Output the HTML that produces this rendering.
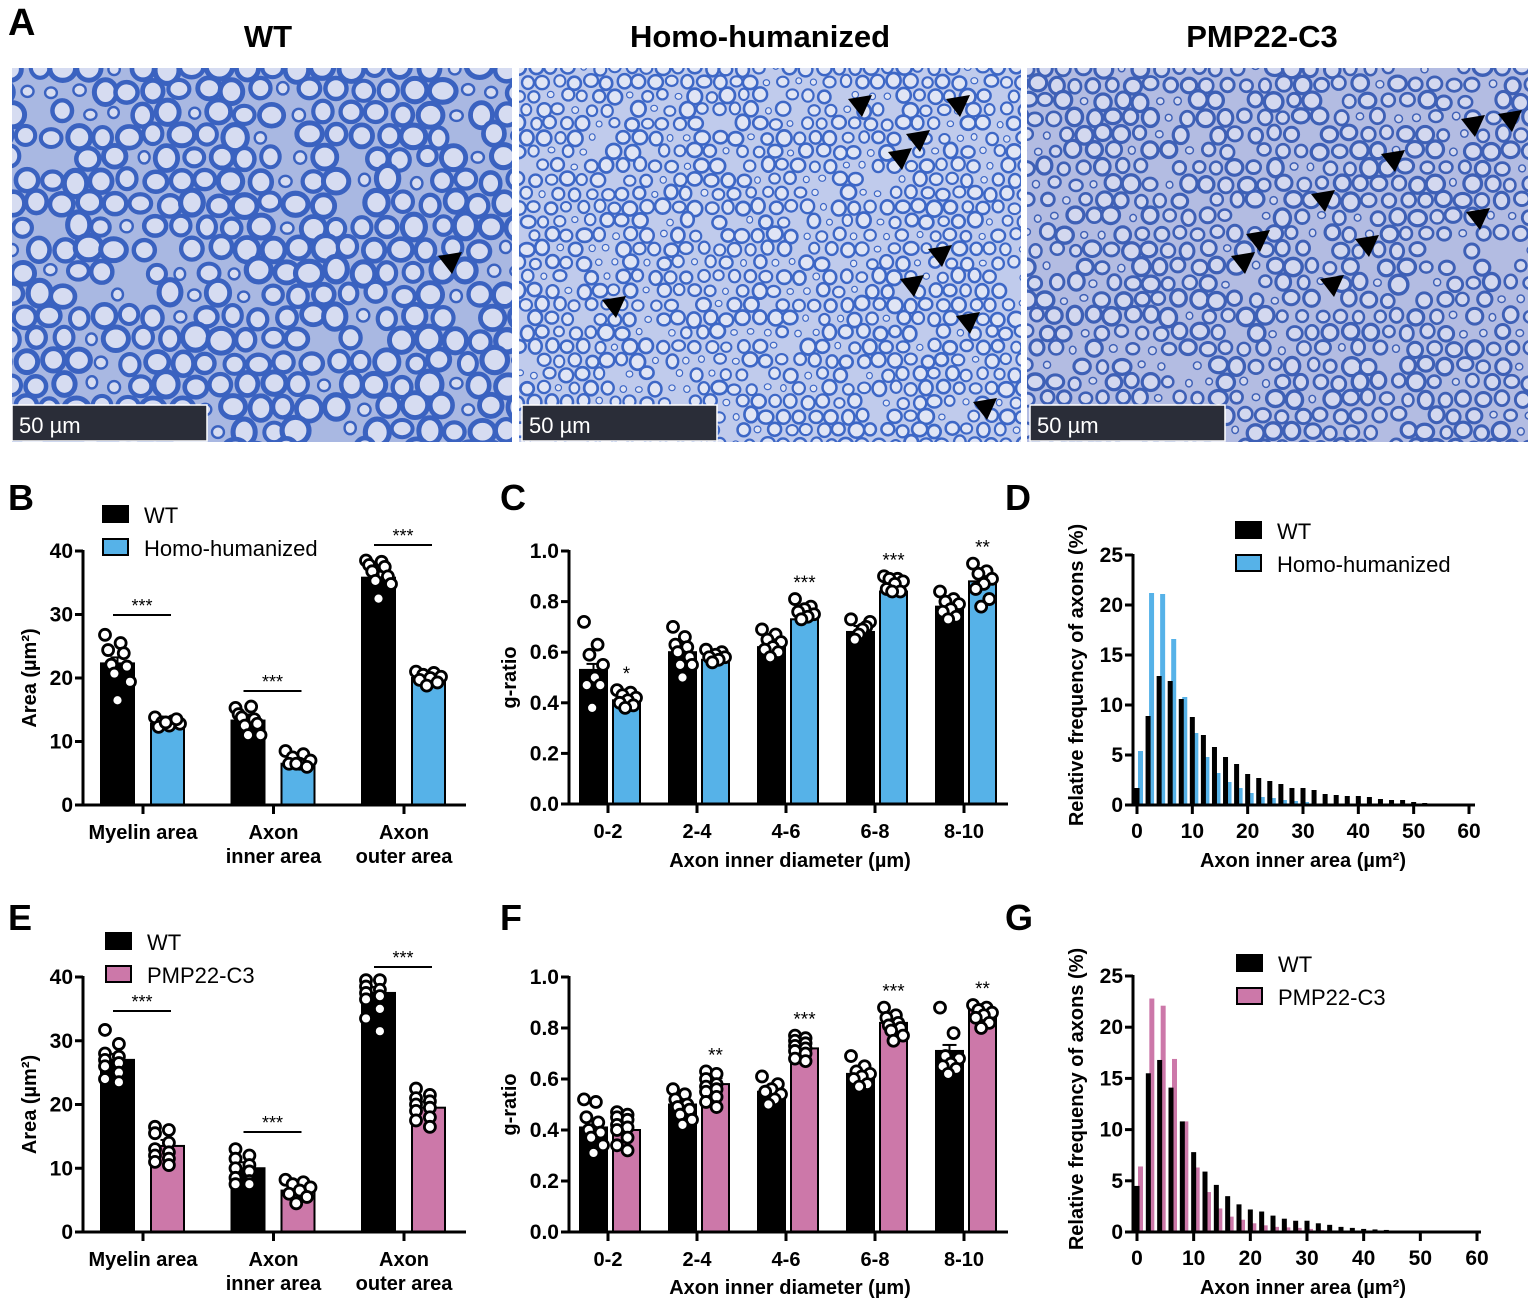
<!DOCTYPE html>
<html><head><meta charset="utf-8"><style>
html,body{margin:0;padding:0;background:#fff;}
svg{display:block;font-family:"Liberation Sans",Arial,sans-serif;}
</style></head>
<body>
<svg id="fig" width="1535" height="1307" viewBox="0 0 1535 1307" xmlns="http://www.w3.org/2000/svg">
<defs>
<clipPath id="clipA1"><rect x="12" y="68" width="500" height="374"/></clipPath>
<clipPath id="clipA2"><rect x="519" y="68" width="502" height="374"/></clipPath>
<clipPath id="clipA3"><rect x="1027" y="68" width="501" height="374"/></clipPath>
</defs>
<g id="layer"></g>
</svg>
<script>
// ---------- Panel B data ----------
const bCategories = ["Myelin area", "Axon|inner area", "Axon|outer area"];
const bWT = [22.3, 13.3, 35.8];
const bHH = [12.8, 6.5, 20.0];
const bWTdots = [[26.8,25.5,24.4,23.9,22.1,21.8,20.7,19.4,16.5],[15.3,15.5,14.3,13.5,13.8,12.8,12.5,11,11],[38.5,38.3,37.8,37.5,36.8,36,35.3,34.8,32.5]];
const bHHdots = [[13.8,13.2,13,12.8,12.5,12.3,13.5,13.0],[8.5,8,7.5,7,6.5,6.5,6,6.5],[21,20.8,20.5,20.2,20,19.7,19.3,18.8]];
const bTicks = [0,10,20,30,40];
// ---------- Panel C data ----------
const cCategories = ["0-2","2-4","4-6","6-8","8-10"];
const cWT = [0.53,0.60,0.62,0.68,0.78];
const cHH = [0.41,0.57,0.73,0.84,0.88];
const cWTdots = [[.72,.63,.59,.55,.5,.47,.47,.38],[.70,.66,.63,.62,.60,.58,.55,.55,.50],[.69,.67,.65,.64,.62,.61,.60,.58],[.73,.72,.70,.69,.67,.65],[.84,.81,.80,.79,.77,.76,.74,.73]];
const cHHdots = [[.45,.44,.43,.42,.41,.40,.39,.38],[.61,.60,.59,.58,.58,.57,.56],[.81,.78,.77,.76,.75,.74,.73],[.90,.89,.89,.88,.87,.85,.84,.84],[.95,.92,.91,.89,.87,.85,.81,.78]];
const cStars = ["*","","***","***","**"];
const gTicks = [0,0.2,0.4,0.6,0.8,1.0];
// ---------- Panel D data ----------
const dWT = [1.7,8.9,12.9,12.4,10.6,8.8,7.0,5.8,4.8,4.1,3.1,2.7,2.4,2.1,1.7,1.7,1.5,1.1,1.0,0.9,0.9,0.8,0.6,0.5,0.5,0.3,0.2,0.15,0.1,0.1,0.1];
const dHH = [5.4,21.2,21.1,16.6,10.8,7.2,4.8,3.2,2.3,1.7,1.2,0.8,0.7,0.5,0.4,0.3,0.15,0.1,0.1,0.1,0.05,0.05,0.05,0.05,0.05,0.05,0.05,0.05,0.05,0.05,0];
const histXTicks = [0,10,20,30,40,50,60];
const histYTicks = [0,5,10,15,20,25];
// ---------- Panel E data ----------
const eWT = [27.0, 10.0, 37.5];
const ePMP = [13.5, 6.5, 19.5];
const eWTdots = [[31.7,29.5,28,27.5,27,26.5,26,25,24,23.5],[13,12,11.5,10.5,10,9.5,8.5,8,7.5,7.5],[39.5,39.5,38.5,38,37.5,37,36.5,35,33.5,31.5]];
const ePMPdots = [[16.5,16,15.5,14,13,12.5,12,11.5,11,10.5],[8.2,7.8,7.5,7,6.5,6,5.5,4.5],[22.5,21.5,21,20.5,20,19.5,19,18,17.5,16.5]];
// ---------- Panel F data ----------
const fWT = [0.41,0.50,0.55,0.62,0.71];
const fPMP = [0.40,0.58,0.72,0.82,0.87];
const fWTdots = [[.52,.51,.45,.43,.40,.39,.37,.34,.31],[.56,.54,.52,.50,.49,.48,.46,.44,.42],[.61,.58,.56,.55,.54,.52,.50],[.69,.65,.63,.62,.61,.60,.58,.57],[.88,.78,.69,.68,.66,.65,.64,.62]];
const fPMPdots = [[.47,.46,.45,.44,.42,.41,.40,.37,.34,.32],[.63,.62,.60,.58,.57,.56,.55,.53,.51,.49],[.77,.76,.75,.74,.73,.72,.71,.70,.68,.67],[.88,.85,.84,.82,.81,.80,.79,.77,.75],[.89,.88,.87,.86,.85,.84,.82,.80]];
const fStars = ["","**","***","***","**"];
// ---------- Panel G data ----------
const gWT = [4.5,15.5,16.8,14.1,10.8,7.8,5.9,4.6,3.5,2.7,2.2,2.0,1.6,1.3,1.1,1.1,0.85,0.7,0.5,0.4,0.3,0.25,0.2,0,0,0,0,0,0,0,0];
const gPMP = [6.4,22.8,22.1,16.9,10.8,6.3,3.9,2.3,1.5,1.2,0.85,0.65,0.5,0.45,0.4,0.3,0.2,0.15,0.1,0.05,0,0,0,0,0,0,0,0,0,0,0];

const NS = "http://www.w3.org/2000/svg";
const root = document.getElementById("layer");
const BLUE = "#56b2e8", PINK = "#cc78a9";
function mk(tag, attrs, parent) {
  const e = document.createElementNS(NS, tag);
  for (const k in attrs) e.setAttribute(k, attrs[k]);
  (parent || root).appendChild(e);
  return e;
}
function txt(x, y, s, size, opts, parent) {
  opts = opts || {};
  const t = mk("text", {x: x, y: y, "font-size": size, "text-anchor": opts.anchor || "start", "font-weight": opts.bold ? "bold" : "normal", fill: "#000"}, parent);
  if (opts.rot) t.setAttribute("transform", "rotate(-90 " + x + " " + y + ")");
  t.textContent = s;
  return t;
}

// ---------- Panel A micrographs ----------
let seed = 12345;
function rnd() { seed = (seed * 1103515245 + 12345) % 2147483648; return seed / 2147483648; }
function micro(x0, y0, w, h, clip, bg, ring, inner, sp, rmin, rmax, swf, name) {
  const g = mk("g", {"clip-path": "url(#" + clip + ")"});
  
  
  mk("rect", {x: x0, y: y0, width: w, height: h, fill: bg}, g);
  const rows = Math.ceil(h / (sp * 0.87)) + 2;
  const cols = Math.ceil(w / sp) + 2;
  for (let i = -1; i < rows; i++) for (let j = -1; j < cols; j++) {
    if (rnd() < 0.05) continue;
    const cx = x0 + j * sp + (i % 2 ? sp / 2 : 0) + (rnd() - 0.5) * sp * 0.2;
    const cy = y0 + i * sp * 0.87 + (rnd() - 0.5) * sp * 0.2;
    let r = rmin + rnd() * (rmax - rmin);
    if (rnd() < 0.15) r = rmin * 0.6;
    mk("ellipse", {cx: cx, cy: cy, rx: r * (0.9 + rnd() * 0.2), ry: r * (0.9 + rnd() * 0.2), fill: inner, stroke: ring, "stroke-width": r * swf}, g);
  }
}
micro(12, 68, 500, 374, "clipA1", "#a9b8e2", "#3a62c0", "#d6dcf1", 26, 9.5, 12.5, 0.42, "micrograph-wt");
micro(519, 68, 502, 374, "clipA2", "#c0cbec", "#3d67c6", "#e0e5f5", 16, 5.2, 7.3, 0.38, "micrograph-homo-humanized");
micro(1027, 68, 501, 374, "clipA3", "#b3bce2", "#3e60b6", "#d3d8ef", 19, 6, 8.6, 0.4, "micrograph-pmp22-c3");

// scale bars
[[12, "scale-bar-wt"], [522, "scale-bar-homo"], [1030, "scale-bar-pmp"]].forEach(function (p) {
  const r = mk("rect", {x: p[0], y: 405, width: 195, height: 36, fill: "#2a2d38", stroke: "#fff", "stroke-width": 1.5});
  
  
  const t = mk("text", {x: p[0] + 7, y: 433, "font-size": 22, fill: "#fff"});
  t.textContent = "50 µm";
});
// arrowheads
const arrowPos = [[450,262],[860,105],[958,105],[918,140],[900,158],[940,255],[912,285],[968,322],[985,408],[614,306],[1473,125],[1510,120],[1393,160],[1323,200],[1258,240],[1243,262],[1367,245],[1478,218],[1332,285]];
arrowPos.forEach(function (p) {
  const a = mk("polygon", {points: (p[0]-12)+","+(p[1]-6)+" "+(p[0]+12)+","+(p[1]-10)+" "+(p[0]+2)+","+(p[1]+12), fill: "#000"});
  
  
});

// titles
txt(8, 35, "A", 38, {bold: true});
txt(268, 47, "WT", 31, {bold: true, anchor: "middle"});
txt(760, 47, "Homo-humanized", 31, {bold: true, anchor: "middle"});
txt(1262, 47, "PMP22-C3", 31, {bold: true, anchor: "middle"});

// ---------- generic grouped bar chart ----------
function barChart(cfg) {
  const g = mk("g", {});
  
  
  const y = function (v) { return cfg.y0 - (v - 0) / cfg.ymax * (cfg.y0 - cfg.ytop); };
  cfg.cats.forEach(function (c, i) {
    const cx = cfg.cx0 + i * cfg.step;
    [[cfg.s1, cfg.d1, "#000", cfg.o1], [cfg.s2, cfg.d2, cfg.color, cfg.o2]].forEach(function (S, k) {
      const left = cx + S[3], w = cfg.bw;
      const b = mk("rect", {x: left, y: y(S[0][i]), width: w, height: y(0) - y(S[0][i]), fill: S[2], stroke: "#000", "stroke-width": 2}, g);
      
      
      mk("line", {x1: left + w/2, x2: left + w/2, y1: y(S[0][i]), y2: y(S[0][i]) - 6, stroke: "#000", "stroke-width": 2}, g);
      mk("line", {x1: left + w/2 - 7, x2: left + w/2 + 7, y1: y(S[0][i]) - 6, y2: y(S[0][i]) - 6, stroke: "#000", "stroke-width": 2}, g);
      const dots = S[1][i], n = dots.length;
      dots.forEach(function (v, j) {
        const fx = n > 1 ? ((j * 5) % n) / (n - 1) : 0.5;
        const d = mk("circle", {cx: left + 4 + fx * (w - 8), cy: y(v), r: 5.5, fill: "#fff", stroke: "#000", "stroke-width": 2.8}, g);
        
        
      });
    });
    mk("line", {x1: cx, x2: cx, y1: cfg.y0, y2: cfg.y0 + 9, stroke: "#000", "stroke-width": 3}, g);
    const parts = c.split("|");
    parts.forEach(function (p, pi) {
      const t = txt(cx, cfg.y0 + 34 + pi * 24, p, 20, {anchor: "middle", bold: true}, g);
      
      
    });
    if (cfg.sig) {
      const s = cfg.sig[i];
      if (s) {
        mk("line", {x1: cx - 30, x2: cx + 28, y1: s, y2: s, stroke: "#000", "stroke-width": 2}, g);
        txt(cx - 1, s - 3, "***", 18, {anchor: "middle"}, g);
      }
    }
    if (cfg.stars && cfg.stars[i]) {
      const top = Math.max.apply(null, cfg.d2[i]);
      txt(cx + cfg.o2 + cfg.bw/2, y(top) - 10, cfg.stars[i], 19, {anchor: "middle"}, g);
    }
  });
  mk("line", {x1: cfg.ax, x2: cfg.ax, y1: cfg.ytop - 1, y2: cfg.y0 + 1.5, stroke: "#000", "stroke-width": 3}, g);
  mk("line", {x1: cfg.ax - 8, x2: cfg.xend, y1: cfg.y0, y2: cfg.y0, stroke: "#000", "stroke-width": 3}, g);
  cfg.ticks.forEach(function (t) {
    mk("line", {x1: cfg.ax - 8, x2: cfg.ax, y1: y(t), y2: y(t), stroke: "#000", "stroke-width": 3}, g);
    const l = txt(cfg.ax - 10, y(t) + 7, cfg.fmt(t), 21, {anchor: "end", bold: true}, g);
    
  });
  const yt = txt(cfg.ytx, (cfg.y0 + cfg.ytop) / 2, cfg.ytitle, 20, {anchor: "middle", rot: true, bold: true}, g);
  
  if (cfg.xtitle) {
    const xt = txt(cfg.xtx, cfg.xty, cfg.xtitle, 20, {anchor: "middle", bold: true}, g);
    
  }
}
function legend(x, y, items, name) {
  const g = mk("g", {});
  
  
  items.forEach(function (it, i) {
    mk("rect", {x: x, y: y + i * 33, width: 25, height: 16, fill: it[1], stroke: "#000", "stroke-width": 2}, g);
    txt(x + 41, y + i * 33 + 17, it[0], 22, {}, g);
  });
}

// B
txt(8, 510, "B", 36, {bold: true});
legend(103, 506, [["WT", "#000"], ["Homo-humanized", BLUE]], "legend-b");
barChart({name: "chart-b", cats: bCategories, s1: bWT, s2: bHH, d1: bWTdots, d2: bHHdots, color: BLUE, n2: "homo",
  cx0: 143, step: 130.5, bw: 33, o1: -42, o2: 8, y0: 805, ytop: 551, ymax: 40, ax: 83, xend: 466,
  ticks: bTicks, fmt: function (v) { return String(v); }, ytx: 36, ytitle: "Area (µm²)", sig: [615, 691, 545]});
// C
txt(500, 510, "C", 36, {bold: true});
barChart({name: "chart-c", cats: cCategories, s1: cWT, s2: cHH, d1: cWTdots, d2: cHHdots, color: BLUE, n2: "homo",
  cx0: 608, step: 89, bw: 27, o1: -28, o2: 5, y0: 804, ytop: 551, ymax: 1, ax: 569, xend: 1008,
  ticks: gTicks, fmt: function (v) { return v.toFixed(1); }, ytx: 516, ytitle: "g-ratio", stars: cStars,
  xtitle: "Axon inner diameter (µm)", xtx: 790, xty: 867});
// E
txt(8, 930, "E", 36, {bold: true});
legend(106, 933, [["WT", "#000"], ["PMP22-C3", PINK]], "legend-e");
barChart({name: "chart-e", cats: bCategories, s1: eWT, s2: ePMP, d1: eWTdots, d2: ePMPdots, color: PINK, n2: "pmp",
  cx0: 143, step: 130.5, bw: 33, o1: -42, o2: 8, y0: 1232, ytop: 977, ymax: 40, ax: 83, xend: 466,
  ticks: bTicks, fmt: function (v) { return String(v); }, ytx: 36, ytitle: "Area (µm²)", sig: [1011, 1132, 967]});
// F
txt(500, 930, "F", 36, {bold: true});
barChart({name: "chart-f", cats: cCategories, s1: fWT, s2: fPMP, d1: fWTdots, d2: fPMPdots, color: PINK, n2: "pmp",
  cx0: 608, step: 89, bw: 27, o1: -28, o2: 5, y0: 1232, ytop: 977, ymax: 1, ax: 569, xend: 1008,
  ticks: gTicks, fmt: function (v) { return v.toFixed(1); }, ytx: 516, ytitle: "g-ratio", stars: fStars,
  xtitle: "Axon inner diameter (µm)", xtx: 790, xty: 1294});

// ---------- histograms ----------
function hist(cfg) {
  const g = mk("g", {});
  
  
  const x = function (v) { return cfg.x0 + v / 60 * (cfg.x60 - cfg.x0); };
  const y = function (v) { return cfg.y0 - v / 25 * (cfg.y0 - cfg.ytop); };
  cfg.s2.forEach(function (v, i) {
    if (v <= 0) return;
    const b = mk("rect", {x: x(2 * i) + 1, y: y(v), width: 5, height: y(0) - y(v), fill: cfg.color}, g);
    
    
  });
  cfg.s1.forEach(function (v, i) {
    if (v <= 0) return;
    const b = mk("rect", {x: x(2 * i) - 2.5, y: y(v), width: 5, height: y(0) - y(v), fill: "#000"}, g);
    
    
  });
  mk("line", {x1: cfg.ax, x2: cfg.ax, y1: cfg.ytop - 1, y2: cfg.y0 + 1.5, stroke: "#000", "stroke-width": 3}, g);
  mk("line", {x1: cfg.ax - 8, x2: cfg.xend, y1: cfg.y0, y2: cfg.y0, stroke: "#000", "stroke-width": 3}, g);
  histYTicks.forEach(function (t) {
    mk("line", {x1: cfg.ax - 8, x2: cfg.ax, y1: y(t), y2: y(t), stroke: "#000", "stroke-width": 3}, g);
    txt(cfg.ax - 10, y(t) + 7, String(t), 21, {anchor: "end", bold: true}, g);
  });
  histXTicks.forEach(function (t) {
    mk("line", {x1: x(t), x2: x(t), y1: cfg.y0, y2: cfg.y0 + 9, stroke: "#000", "stroke-width": 3}, g);
    txt(x(t), cfg.y0 + 33, String(t), 21, {anchor: "middle", bold: true}, g);
  });
  txt(1083, (cfg.y0 + cfg.ytop) / 2 - 5, "Relative frequency of axons (%)", 20, {anchor: "middle", rot: true, bold: true}, g);
  txt(1303, cfg.y0 + 62, "Axon inner area (µm²)", 20, {anchor: "middle", bold: true}, g);
}
txt(1005, 510, "D", 36, {bold: true});
legend(1236, 522, [["WT", "#000"], ["Homo-humanized", BLUE]], "legend-d");
hist({name: "chart-d", s1: dWT, s2: dHH, color: BLUE, n2: "homo", x0: 1137, x60: 1469, y0: 805, ytop: 555, ax: 1133, xend: 1475});
txt(1005, 930, "G", 36, {bold: true});
legend(1237, 955, [["WT", "#000"], ["PMP22-C3", PINK]], "legend-g");
hist({name: "chart-g", s1: gWT, s2: gPMP, color: PINK, n2: "pmp", x0: 1137, x60: 1477, y0: 1232, ytop: 976, ax: 1133, xend: 1481});
</script>
</body></html>
